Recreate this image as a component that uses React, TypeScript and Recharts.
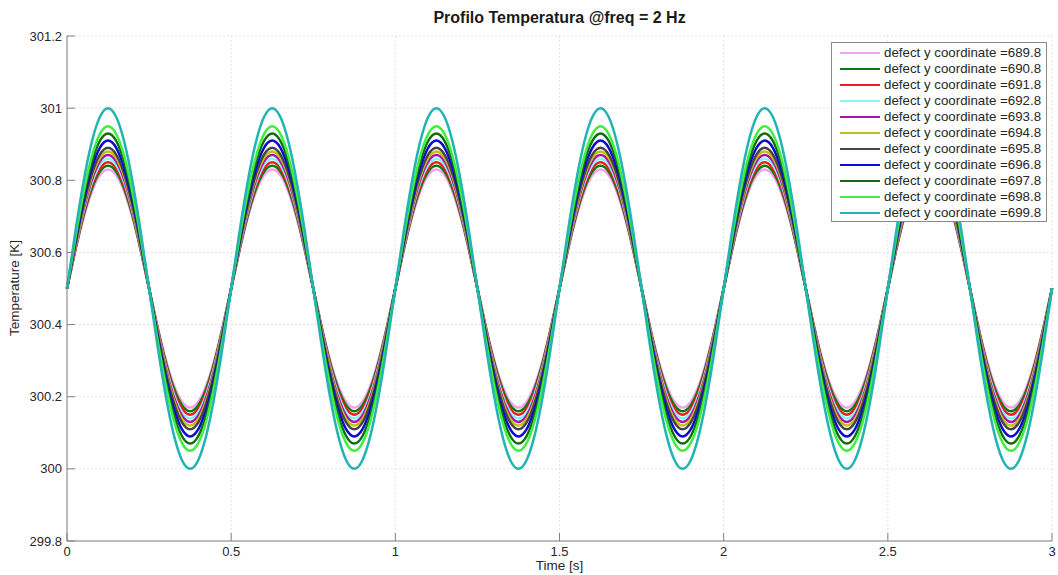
import React from "react";
import { LineChart, Line, XAxis, YAxis, CartesianGrid, Legend } from "recharts";

// ---- data ----
const SERIES_LABELS = [
  "defect y coordinate =689.8",
  "defect y coordinate =690.8",
  "defect y coordinate =691.8",
  "defect y coordinate =692.8",
  "defect y coordinate =693.8",
  "defect y coordinate =694.8",
  "defect y coordinate =695.8",
  "defect y coordinate =696.8",
  "defect y coordinate =697.8",
  "defect y coordinate =698.8",
  "defect y coordinate =699.8",
];
const SERIES_COLORS = [
  "#f5a0f0",
  "#077a07",
  "#ee1c1c",
  "#80fafa",
  "#b00fb0",
  "#c0c01a",
  "#454545",
  "#0b0bd0",
  "#116d11",
  "#40ee40",
  "#22b4b4",
];
// peak amplitude of each series around the mean temperature [K]
const AMPLITUDES = [0.33, 0.34, 0.35, 0.36, 0.37, 0.38, 0.39, 0.41, 0.43, 0.45, 0.5];
const MEAN_TEMPERATURE = 300.5;
// normalized shape of one 0.5 s period, sampled every 0.025 s
const CYCLE_SHAPE = [
  0, 0.309, 0.588, 0.809, 0.951, 1, 0.951, 0.809, 0.588, 0.309,
  0, -0.309, -0.588, -0.809, -0.951, -1, -0.951, -0.809, -0.588, -0.309,
];
const SAMPLE_STEP = 0.025;
const CYCLE_COUNT = 6;
const X_TICKS = [0, 0.5, 1, 1.5, 2, 2.5, 3];
const Y_TICKS = [299.8, 300, 300.2, 300.4, 300.6, 300.8, 301, 301.2];

// ---- table for recharts ----
const rows: any[] = [];
const totalSamples = CYCLE_SHAPE.length * CYCLE_COUNT;
for (let i = 0; i <= totalSamples; i++) {
  const row: any = { t: Number((i * SAMPLE_STEP).toFixed(4)) };
  const shape = CYCLE_SHAPE[i % CYCLE_SHAPE.length];
  AMPLITUDES.forEach((a, s) => {
    row["s" + s] = MEAN_TEMPERATURE + a * shape;
  });
  rows.push(row);
}

const FONT = '"Liberation Sans", Arial, Helvetica, sans-serif';
const TICK_COLOR = "#262626";
const AXIS_COLOR = "#808080";
const TICK_FONT = 13;

const fmt = (v: number) => String(Number(v.toFixed(1)));

const YTick = (props: any) => {
  const { x, y, payload } = props;
  return (
    <g>
      <line x1={x + 5} x2={x + 13} y1={y} y2={y} stroke={AXIS_COLOR} strokeWidth={1} />
      <text x={x} y={y} dy="0.35em" textAnchor="end" fill={TICK_COLOR} fontSize={TICK_FONT} fontFamily={FONT}>
        {fmt(payload.value)}
      </text>
    </g>
  );
};

const XTick = (props: any) => {
  const { x, y, payload } = props;
  return (
    <g>
      <line x1={x} x2={x} y1={y - 6} y2={y - 14} stroke={AXIS_COLOR} strokeWidth={1} />
      <text x={x} y={y} dy="0.71em" textAnchor="middle" fill={TICK_COLOR} fontSize={TICK_FONT} fontFamily={FONT}>
        {fmt(payload.value)}
      </text>
    </g>
  );
};

const LegendBox = () => (
  <div
    style={{
      width: 216,
      height: 180,
      boxSizing: "border-box",
      border: "1px solid #8a8a8a",
      background: "#fff",
      paddingTop: 2,
      fontFamily: FONT,
      fontSize: 13.3,
      color: TICK_COLOR,
    }}
  >
    {SERIES_LABELS.map((label, i) => (
      <div key={label} style={{ height: 16, display: "flex", alignItems: "center", whiteSpace: "nowrap" }}>
        <span
          style={{
            display: "inline-block",
            marginLeft: 8,
            width: 40,
            height: 2.5,
            background: SERIES_COLORS[i],
          }}
        />
        <span style={{ marginLeft: 4, lineHeight: "16px" }}>{label}</span>
      </div>
    ))}
  </div>
);

export default function App() {
  return (
    <div style={{ position: "absolute", left: 0, top: 0, width: 1058, height: 575, background: "#fff" }}>
      <LineChart
        width={1058}
        height={575}
        data={rows}
        margin={{ top: 36, right: 6, left: 0, bottom: 0 }}
      >
        <CartesianGrid stroke="#e2e2e2" strokeDasharray="2 2" horizontal vertical />
        <XAxis
          dataKey="t"
          type="number"
          domain={[0, 3]}
          ticks={X_TICKS}
          height={34}
          tickSize={0}
          tickMargin={6}
          tickLine={false}
          axisLine={{ stroke: AXIS_COLOR }}
          tick={<XTick />}
          interval={0}
        />
        <YAxis
          type="number"
          domain={[299.8, 301.2]}
          ticks={Y_TICKS}
          width={67}
          tickSize={0}
          tickMargin={5}
          tickLine={false}
          axisLine={{ stroke: AXIS_COLOR }}
          tick={<YTick />}
          interval={0}
          allowDataOverflow
        />
        <Legend
          layout="horizontal"
          align="center"
          verticalAlign="middle"
          content={<LegendBox />}
          wrapperStyle={{ position: "absolute", left: 831, top: 42, width: 216, height: 180 }}
        />
        {AMPLITUDES.map((_, i) => (
          <Line
            key={i}
            type="natural"
            dataKey={"s" + i}
            name={SERIES_LABELS[i]}
            stroke={SERIES_COLORS[i]}
            strokeWidth={2.5}
            dot={false}
            activeDot={false}
            isAnimationActive={false}
          />
        ))}
      </LineChart>
      <div
        style={{
          position: "absolute",
          left: 67,
          width: 985,
          top: 9,
          textAlign: "center",
          fontFamily: FONT,
          fontWeight: "bold",
          fontSize: 16,
          lineHeight: "18px",
          color: "#1a1a1a",
        }}
      >
        Profilo Temperatura @freq = 2 Hz
      </div>
      <div
        style={{
          position: "absolute",
          left: 67,
          width: 985,
          top: 558,
          textAlign: "center",
          fontFamily: FONT,
          fontSize: 13.5,
          lineHeight: "16px",
          color: TICK_COLOR,
        }}
      >
        Time [s]
      </div>
      <div
        style={{
          position: "absolute",
          left: 15,
          top: 288,
          width: 0,
          height: 0,
        }}
      >
        <div
          style={{
            position: "absolute",
            left: -100,
            top: -8,
            width: 200,
            textAlign: "center",
            transform: "rotate(-90deg)",
            fontFamily: FONT,
            fontSize: 13.5,
            lineHeight: "16px",
            color: TICK_COLOR,
            whiteSpace: "nowrap",
          }}
        >
          Temperature [K]
        </div>
      </div>
    </div>
  );
}
